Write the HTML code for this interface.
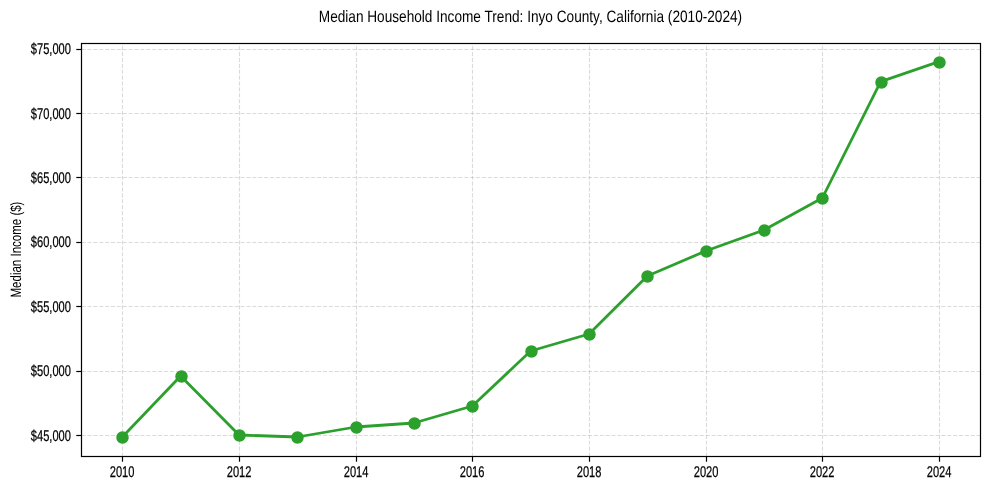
<!DOCTYPE html>
<html><head><meta charset="utf-8"><title>Median Household Income Trend: Inyo County, California (2010-2024)</title><style>
html,body{margin:0;padding:0;background:#fff;}
svg{display:block;will-change:transform;}
text{font-family:"Liberation Sans",sans-serif;fill:#000;text-rendering:geometricPrecision;}
.t{font-size:15.5px;stroke:#000;stroke-width:0.25px;}
.ttl{font-size:16.5px;}
.yl{font-size:15px;}
</style></head><body>
<svg width="989" height="490" viewBox="0 0 989 490">
<rect width="989" height="490" fill="#fff"/>
<g stroke="#b0b0b0" stroke-opacity="0.45" stroke-width="1.11" stroke-dasharray="4.111 1.778" stroke-dashoffset="0.0" fill="none">
<line x1="122.5" y1="456.5" x2="122.5" y2="43.5" stroke-dashoffset="0.1"/><line x1="239.5" y1="456.5" x2="239.5" y2="43.5" stroke-dashoffset="0.1"/><line x1="356.5" y1="456.5" x2="356.5" y2="43.5" stroke-dashoffset="0.1"/><line x1="472.5" y1="456.5" x2="472.5" y2="43.5" stroke-dashoffset="0.1"/><line x1="589.5" y1="456.5" x2="589.5" y2="43.5" stroke-dashoffset="0.1"/><line x1="706.5" y1="456.5" x2="706.5" y2="43.5" stroke-dashoffset="0.1"/><line x1="822.5" y1="456.5" x2="822.5" y2="43.5" stroke-dashoffset="0.1"/><line x1="939.5" y1="456.5" x2="939.5" y2="43.5" stroke-dashoffset="0.1"/><line x1="81.5" y1="435.5" x2="980.5" y2="435.5"/><line x1="81.5" y1="371.5" x2="980.5" y2="371.5"/><line x1="81.5" y1="306.5" x2="980.5" y2="306.5"/><line x1="81.5" y1="242.5" x2="980.5" y2="242.5"/><line x1="81.5" y1="177.5" x2="980.5" y2="177.5"/><line x1="81.5" y1="113.5" x2="980.5" y2="113.5"/><line x1="81.5" y1="49.5" x2="980.5" y2="49.5"/>
</g>
<polyline points="122.32,437.00 180.66,376.00 238.99,435.00 297.32,437.00 355.66,427.00 414.00,423.00 472.33,406.00 530.66,351.00 589.00,334.00 647.34,276.00 705.67,251.00 764.01,230.00 822.34,198.00 880.67,81.60 939.01,61.60" fill="none" stroke="#2ca02c" stroke-width="2.78" stroke-linejoin="round" stroke-linecap="butt"/>
<g fill="#2ca02c" stroke="#2ca02c" stroke-width="1.39"><circle cx="122.5" cy="437.5" r="5.55"/><circle cx="181.5" cy="376.5" r="5.55"/><circle cx="239.5" cy="435.5" r="5.55"/><circle cx="297.5" cy="437.5" r="5.55"/><circle cx="356.5" cy="427.5" r="5.55"/><circle cx="414.5" cy="423.5" r="5.55"/><circle cx="472.5" cy="406.5" r="5.55"/><circle cx="531.5" cy="351.5" r="5.55"/><circle cx="589.5" cy="334.5" r="5.55"/><circle cx="647.5" cy="276.5" r="5.55"/><circle cx="706.5" cy="251.5" r="5.55"/><circle cx="764.5" cy="230.5" r="5.55"/><circle cx="822.5" cy="198.5" r="5.55"/><circle cx="881.5" cy="82.5" r="5.55"/><circle cx="939.5" cy="62.5" r="5.55"/></g>
<rect x="81.5" y="43.5" width="899.0" height="413.0" fill="none" stroke="#000" stroke-width="1.2"/>
<g stroke="#000" stroke-width="1.2" stroke-linecap="butt"><line x1="122.5" y1="456.5" x2="122.5" y2="461.70"/><line x1="239.5" y1="456.5" x2="239.5" y2="461.70"/><line x1="356.5" y1="456.5" x2="356.5" y2="461.70"/><line x1="472.5" y1="456.5" x2="472.5" y2="461.70"/><line x1="589.5" y1="456.5" x2="589.5" y2="461.70"/><line x1="706.5" y1="456.5" x2="706.5" y2="461.70"/><line x1="822.5" y1="456.5" x2="822.5" y2="461.70"/><line x1="939.5" y1="456.5" x2="939.5" y2="461.70"/><line x1="76.30" y1="435.5" x2="81.5" y2="435.5"/><line x1="76.30" y1="371.5" x2="81.5" y2="371.5"/><line x1="76.30" y1="306.5" x2="81.5" y2="306.5"/><line x1="76.30" y1="242.5" x2="81.5" y2="242.5"/><line x1="76.30" y1="177.5" x2="81.5" y2="177.5"/><line x1="76.30" y1="113.5" x2="81.5" y2="113.5"/><line x1="76.30" y1="49.5" x2="81.5" y2="49.5"/></g>
<text class="t" transform="translate(122.05,476.9) scale(0.716,1)" text-anchor="middle">2010</text><text class="t" transform="translate(239.05,476.9) scale(0.716,1)" text-anchor="middle">2012</text><text class="t" transform="translate(356.05,476.9) scale(0.716,1)" text-anchor="middle">2014</text><text class="t" transform="translate(472.05,476.9) scale(0.716,1)" text-anchor="middle">2016</text><text class="t" transform="translate(589.05,476.9) scale(0.716,1)" text-anchor="middle">2018</text><text class="t" transform="translate(706.05,476.9) scale(0.716,1)" text-anchor="middle">2020</text><text class="t" transform="translate(822.05,476.9) scale(0.716,1)" text-anchor="middle">2022</text><text class="t" transform="translate(939.05,476.9) scale(0.716,1)" text-anchor="middle">2024</text><text class="t" transform="translate(70.9,440.50) scale(0.716,1)" text-anchor="end">$45,000</text><text class="t" transform="translate(70.9,376.10) scale(0.716,1)" text-anchor="end">$50,000</text><text class="t" transform="translate(70.9,311.70) scale(0.716,1)" text-anchor="end">$55,000</text><text class="t" transform="translate(70.9,247.30) scale(0.716,1)" text-anchor="end">$60,000</text><text class="t" transform="translate(70.9,182.90) scale(0.716,1)" text-anchor="end">$65,000</text><text class="t" transform="translate(70.9,118.50) scale(0.716,1)" text-anchor="end">$70,000</text><text class="t" transform="translate(70.9,54.10) scale(0.716,1)" text-anchor="end">$75,000</text>
<text class="ttl" transform="translate(530.45,21.8) scale(0.8262,1)" text-anchor="middle">Median Household Income Trend: Inyo County, California (2010-2024)</text>
<text class="yl" transform="translate(21.0,249.5) rotate(-90) scale(0.767,1)" text-anchor="middle">Median Income ($)</text>
</svg>
</body></html>
